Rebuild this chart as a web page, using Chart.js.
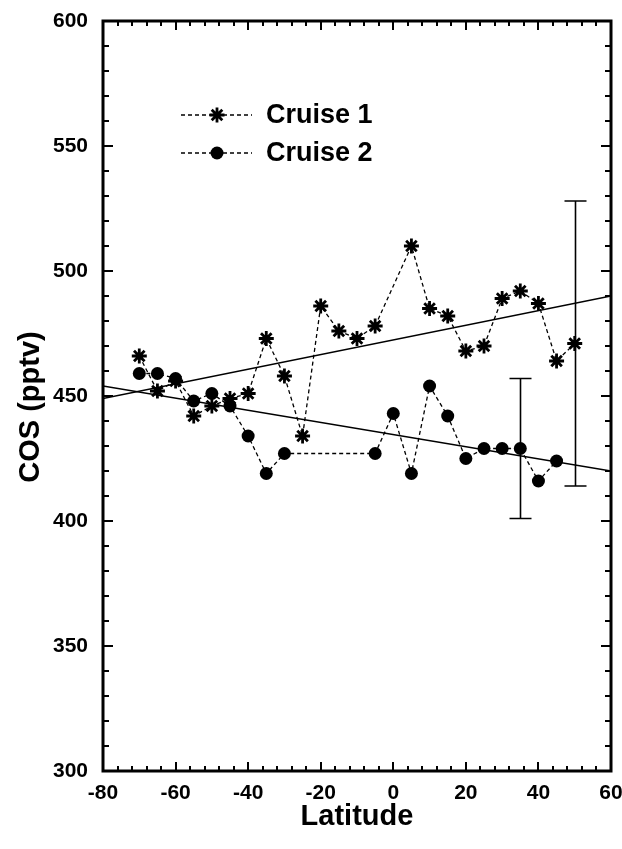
<!DOCTYPE html>
<html>
<head>
<meta charset="utf-8">
<script src="https://cdn.jsdelivr.net/npm/chart.js@4/dist/chart.umd.min.js"></script>
<style>
  html, body { margin: 0; padding: 0; background: #fff; }
</style>
</head>
<body>
<canvas id="chart" width="622" height="849"></canvas>
<script>
// Cruise 1 (stars) and Cruise 2 (dots)
const cruise1Lat = [-70, -65, -60, -55, -50, -45, -40, -35, -30, -25, -20, -15, -10, -5, 5, 10, 15, 20, 25, 30, 35, 40, 45, 50]
const cruise1Cos = [466, 452, 456, 442, 446, 449, 451, 473, 458, 434, 486, 476, 473, 478, 510, 485, 482, 468, 470, 489, 492, 487, 464, 471]

const cruise2Lat = [-70, -65, -60, -55, -50, -45, -40, -35, -30, -5, 0, 5, 10, 15, 20, 25, 30, 35, 40, 45]
const cruise2Cos = [459, 459, 457, 448, 451, 446, 434, 419, 427, 427, 443, 419, 454, 442, 425, 429, 429, 429, 416, 424]

// least-squares lines, end points at the plot edges
const fitLat = [-80, 60]
const fit1Cos = [449, 490]
const fit2Cos = [454, 420]

// error bars
const errLat = [35, 50]
const errLow = [401, 414]
const errHigh = [457, 528]

const xTicksMajor = 20
const xTicksMinor = 4
const yTicksMajor = 50
const yTicksMinor = 10

const yTitle = 'COS (pptv)'

const FONT = '"Liberation Sans", Arial, Helvetica, sans-serif'

const pts = (xs, ys) => xs.map((x, i) => ({ x, y: ys[i] }))

// ticks point inward on all four sides, heavy frame
const frameTicks = {
  id: 'frameTicks',
  afterDatasetsDraw(chart) {
    const { ctx, chartArea: a, scales: { x, y } } = chart
    ctx.save()
    ctx.strokeStyle = '#000'
    ctx.lineWidth = 2
    ctx.beginPath()
    const nx = Math.round((x.max - x.min) / xTicksMinor)
    for (let i = 0; i <= nx; i++) {
      const v = x.min + i * xTicksMinor
      const px = Math.round(x.getPixelForValue(v))
      const len = v % xTicksMajor === 0 ? 9 : 5
      ctx.moveTo(px, a.bottom); ctx.lineTo(px, a.bottom - len)
      ctx.moveTo(px, a.top); ctx.lineTo(px, a.top + len)
    }
    const ny = Math.round((y.max - y.min) / yTicksMinor)
    for (let i = 0; i <= ny; i++) {
      const v = y.min + i * yTicksMinor
      const py = Math.round(y.getPixelForValue(v))
      const len = v % yTicksMajor === 0 ? 10 : 6
      ctx.moveTo(a.left, py); ctx.lineTo(a.left + len, py)
      ctx.moveTo(a.right, py); ctx.lineTo(a.right - len, py)
    }
    ctx.stroke()
    ctx.lineWidth = 3
    ctx.strokeRect(a.left, a.top, a.right - a.left, a.bottom - a.top)
    ctx.restore()
  }
}

const errorBars = {
  id: 'errorBars',
  afterDatasetsDraw(chart) {
    const { ctx, scales: { x, y } } = chart
    ctx.save()
    ctx.strokeStyle = '#000'
    ctx.lineWidth = 1.6
    ctx.beginPath()
    errLat.forEach((lat, i) => {
      const px = Math.round(x.getPixelForValue(lat)) + 0.5
      const lo = y.getPixelForValue(errLow[i])
      const hi = y.getPixelForValue(errHigh[i])
      ctx.moveTo(px, lo); ctx.lineTo(px, hi)
      ctx.moveTo(px - 11, lo); ctx.lineTo(px + 11, lo)
      ctx.moveTo(px - 11, hi); ctx.lineTo(px + 11, hi)
    })
    ctx.stroke()
    ctx.restore()
  }
}

// legend with a dashed line through each marker, as in the figure
const insetLegend = {
  id: 'insetLegend',
  afterDatasetsDraw(chart) {
    const { ctx } = chart
    const rows = [chart.data.datasets[0], chart.data.datasets[1]]
    ctx.save()
    rows.forEach((ds, i) => {
      const yy = 115 + i * 38
      ctx.strokeStyle = '#000'
      ctx.lineWidth = 1.3
      ctx.setLineDash([4, 3])
      ctx.beginPath()
      ctx.moveTo(181, yy); ctx.lineTo(252, yy)
      ctx.stroke()
      ctx.setLineDash([])
      ctx.fillStyle = '#000'
      ctx.lineWidth = ds.pointBorderWidth
      Chart.helpers.drawPoint(ctx, {
        pointStyle: ds.pointStyle,
        radius: ds.pointRadius,
        borderWidth: ds.pointBorderWidth,
        rotation: 0
      }, 217, yy)
      ctx.font = 'bold 27px ' + FONT
      ctx.textBaseline = 'middle'
      ctx.fillText(ds.label, 266, yy + 1)
    })
    ctx.restore()
  }
}

// y title sits a little below the middle of the axis in the figure
const yAxisTitle = {
  id: 'yAxisTitle',
  afterDraw(chart) {
    const { ctx } = chart
    ctx.save()
    ctx.translate(31, 407)
    ctx.rotate(-Math.PI / 2)
    ctx.font = 'bold 29px ' + FONT
    ctx.fillStyle = '#000'
    ctx.textAlign = 'center'
    ctx.textBaseline = 'middle'
    ctx.fillText(yTitle, 0, 0)
    ctx.restore()
  }
}

new Chart(document.getElementById('chart'), {
  type: 'scatter',
  data: {
    datasets: [
      {
        label: 'Cruise 1',
        data: pts(cruise1Lat, cruise1Cos),
        showLine: true,
        borderColor: '#000',
        borderWidth: 1.3,
        borderDash: [4, 3],
        pointStyle: 'star',
        pointRadius: 7.5,
        pointBorderWidth: 2.8,
        pointBorderColor: '#000',
        pointBackgroundColor: '#000'
      },
      {
        label: 'Cruise 2',
        data: pts(cruise2Lat, cruise2Cos),
        showLine: true,
        borderColor: '#000',
        borderWidth: 1.3,
        borderDash: [4, 3],
        pointStyle: 'circle',
        pointRadius: 6.5,
        pointBorderWidth: 0,
        pointBorderColor: '#000',
        pointBackgroundColor: '#000'
      },
      {
        label: 'fit 1',
        data: pts(fitLat, fit1Cos),
        showLine: true,
        borderColor: '#000',
        borderWidth: 1.3,
        pointRadius: 0
      },
      {
        label: 'fit 2',
        data: pts(fitLat, fit2Cos),
        showLine: true,
        borderColor: '#000',
        borderWidth: 1.3,
        pointRadius: 0
      }
    ]
  },
  plugins: [errorBars, frameTicks, insetLegend, yAxisTitle],
  options: {
    responsive: false,
    animation: false,
    layout: { padding: { top: 21, right: 11, left: 0, bottom: 0 } },
    scales: {
      x: {
        type: 'linear',
        min: -80,
        max: 60,
        grid: { display: false },
        border: { display: false },
        afterFit: (scale) => {
          scale.height = 78
          scale.paddingLeft = 0
          scale.paddingRight = 0
        },
        ticks: {
          stepSize: xTicksMajor,
          padding: 2,
          color: '#000',
          font: { family: FONT, size: 21, weight: 'bold' }
        },
        title: {
          display: true,
          text: 'Latitude',
          color: '#000',
          padding: { top: 0, bottom: 15 },
          font: { family: FONT, size: 29, weight: 'bold' }
        }
      },
      y: {
        type: 'linear',
        min: 300,
        max: 600,
        grid: { display: false },
        border: { display: false },
        afterFit: (scale) => {
          scale.width = 103
          scale.paddingTop = 0
          scale.paddingBottom = 0
        },
        ticks: {
          stepSize: yTicksMajor,
          padding: 7,
          color: '#000',
          font: { family: FONT, size: 21, weight: 'bold' }
        }
      }
    },
    plugins: {
      legend: { display: false },
      tooltip: { enabled: false }
    }
  }
})
</script>
</body>
</html>
